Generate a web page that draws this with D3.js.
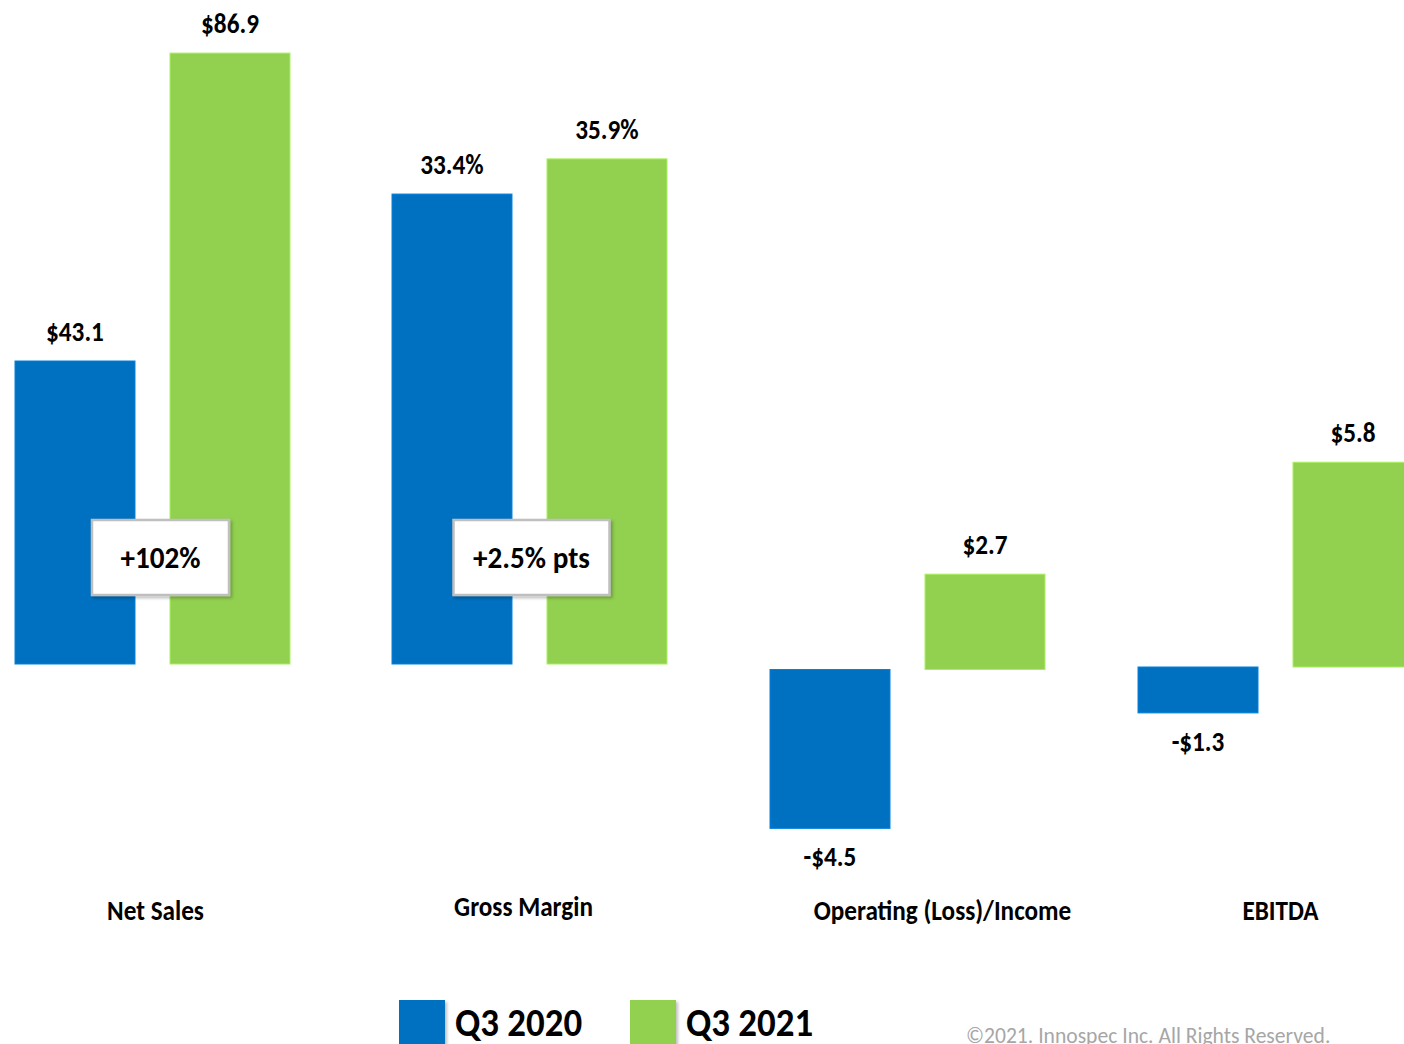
<!DOCTYPE html>
<html>
<head>
<meta charset="utf-8">
<script src="https://cdn.jsdelivr.net/npm/d3@7"></script>
<style>
  body { margin: 0; background: #fff; }
  text { font-family: Carlito, Calibri, 'Open Sans', sans-serif; font-weight: bold; fill: #000; }
</style>
</head>
<body>
<svg id="chart" width="1404" height="1044"></svg>
<script>
// ---- data ----
var categories = ["Net Sales", "Gross Margin", "Operating (Loss)/Income", "EBITDA"];
var seriesNames = ["Q3 2020", "Q3 2021"];
var q3_2020 = [43.1, 33.4, -4.5, -1.3];
var q3_2021 = [86.9, 35.9, 2.7, 5.8];
var valueLabels2020 = ["$43.1", "33.4%", "-$4.5", "-$1.3"];
var valueLabels2021 = ["$86.9", "35.9%", "$2.7", "$5.8"];
var changeLabels = ["+102%", "+2.5% pts", null, null];
var footnote = "\u00A92021. Innospec Inc. All Rights Reserved.";

// ---- layout ----
var W = 1404, H = 1044;
var colors = { "Q3 2020": "#0070C0", "Q3 2021": "#92D050" };
// every category sits on its own value axis (baseline, pixels per unit)
var panels = [
  { base: 664, k: 7.03 },
  { base: 664, k: 14.07 },
  { base: 669.5, k: 35.3 },
  { base: 667, k: 35.3 }
];
var groupShift = [-2, 0, 3, -4];
var labelNudge = [3, -6, 35, 5];
var boxWidths = [137, 156];
var squeeze = 0.9;

var svg = d3.select("#chart");

var x0 = d3.scaleBand().domain(categories).range([17, 1417]).paddingInner(0.2667).paddingOuter(0);
var x1 = d3.scaleBand().domain(seriesNames).range([0, x0.bandwidth()]).paddingInner(0.226);
var yScales = panels.map(function (p) {
  return d3.scaleLinear().domain([0, 1]).range([p.base, p.base - p.k]);
});
function gx(c, i) { return x0(c) + groupShift[i]; }

var rows = [];
categories.forEach(function (c, i) {
  rows.push({ cat: c, i: i, s: "Q3 2020", v: q3_2020[i], label: valueLabels2020[i] });
  rows.push({ cat: c, i: i, s: "Q3 2021", v: q3_2021[i], label: valueLabels2021[i] });
});

function squeezed(sel, x, y, sx) {
  return sel.attr("transform", "translate(" + x + "," + y + ") scale(" + (sx || squeeze) + ",1)");
}

// bars
var bars = svg.append("g").attr("class", "bars");
bars.selectAll("rect").data(rows).enter().append("rect")
  .attr("x", function (d) { return gx(d.cat, d.i) + x1(d.s); })
  .attr("width", x1.bandwidth())
  .attr("y", function (d) { var y = yScales[d.i]; return Math.min(y(0), y(d.v)); })
  .attr("height", function (d) { var y = yScales[d.i]; return Math.abs(y(d.v) - y(0)); })
  .attr("fill", function (d) { return colors[d.s]; })
  .attr("stroke", function (d) { return d3.color(colors[d.s]).brighter(0.4); })
  .attr("stroke-width", 1);

// value labels
var vl = svg.append("g").attr("class", "value-labels");
rows.forEach(function (d) {
  var y = yScales[d.i];
  var cx = gx(d.cat, d.i) + x1(d.s) + x1.bandwidth() / 2;
  var ty = d.v >= 0 ? y(d.v) - 20 : y(d.v) + 38;
  squeezed(vl.append("text"), cx, ty)
    .attr("text-anchor", "middle")
    .style("font-size", "28px")
    .text(d.label);
});

// change call-out boxes
var defs = svg.append("defs");
var f = defs.append("filter").attr("id", "shadow").attr("x", "-10%").attr("y", "-10%").attr("width", "130%").attr("height", "130%");
f.append("feDropShadow").attr("dx", 2).attr("dy", 2).attr("stdDeviation", 1.5).attr("flood-color", "#000").attr("flood-opacity", 0.25);

var boxes = svg.append("g").attr("class", "callouts");
categories.forEach(function (c, i) {
  if (!changeLabels[i]) return;
  var cx = gx(c, i) + x0.bandwidth() / 2 + (i === 0 ? 8 : 2);
  var cy = 557;
  var g = boxes.append("g");
  var w = boxWidths[i];
  g.append("rect")
    .attr("x", cx - w / 2).attr("y", cy - 37)
    .attr("width", w).attr("height", 75)
    .attr("fill", "#fff")
    .attr("stroke", "#bfbfbf")
    .attr("stroke-width", 2.5)
    .attr("filter", "url(#shadow)");
  squeezed(g.append("text"), cx, cy + 11, 0.94)
    .attr("text-anchor", "middle")
    .style("font-size", "31px")
    .text(changeLabels[i]);
});

// category labels
var cl = svg.append("g").attr("class", "category-labels");
categories.forEach(function (c, i) {
  squeezed(cl.append("text"), gx(c, i) + x0.bandwidth() / 2 + labelNudge[i], i === 1 ? 916 : 920)
    .attr("text-anchor", "middle")
    .style("font-size", "28px")
    .text(c);
});

// legend
var legend = svg.append("g").attr("class", "legend");
var lx = d3.scalePoint().domain(seriesNames).range([399, 630]);
seriesNames.forEach(function (s) {
  legend.append("rect")
    .attr("x", lx(s)).attr("y", 1000)
    .attr("width", 46).attr("height", 50)
    .attr("fill", colors[s])
    .attr("filter", "url(#shadow)");
  squeezed(legend.append("text"), lx(s) + 56, 1036, 0.9)
    .style("font-size", "41px")
    .text(s);
});

// footnote
svg.append("text")
  .attr("x", 966).attr("y", 1043)
  .style("font-size", "21.6px")
  .style("font-weight", "normal")
  .style("fill", "#a6a6a6")
  .text(footnote);
</script>
</body>
</html>
